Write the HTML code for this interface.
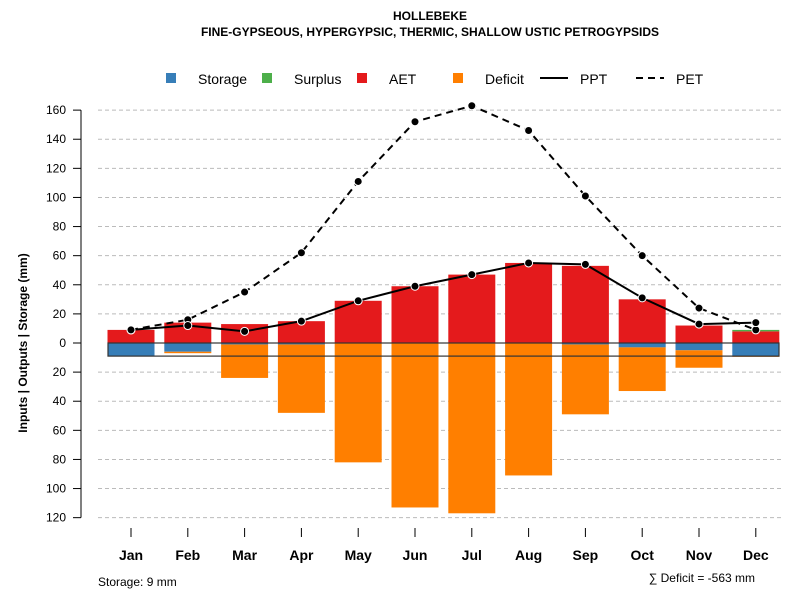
<!DOCTYPE html>
<html><head><meta charset="utf-8"><style>
body{margin:0;background:#fff}
svg{font-family:"Liberation Sans",Arial,sans-serif}
</style></head><body>
<svg id="c" width="800" height="600" xmlns="http://www.w3.org/2000/svg">
<text x="430" y="20" text-anchor="middle" font-size="12" font-weight="bold">HOLLEBEKE</text>
<text x="430" y="36" text-anchor="middle" font-size="12" font-weight="bold">FINE-GYPSEOUS, HYPERGYPSIC, THERMIC, SHALLOW USTIC PETROGYPSIDS</text>
<g id="legend" font-size="14">
<g><rect x="166" y="73" width="10" height="10" fill="#377eb8"/><text x="198" y="84">Storage</text></g>
<g><rect x="262" y="73" width="10" height="10" fill="#4daf4a"/><text x="294" y="84">Surplus</text></g>
<g><rect x="357" y="73" width="10" height="10" fill="#e41a1c"/><text x="389" y="84">AET</text></g>
<g><rect x="453" y="73" width="10" height="10" fill="#ff7f00"/><text x="485" y="84">Deficit</text></g>
<g><line x1="540" y1="78" x2="568" y2="78" stroke="#000" stroke-width="2"/><text x="580" y="84">PPT</text></g>
<g><line x1="636" y1="78" x2="664" y2="78" stroke="#000" stroke-width="2" stroke-dasharray="7,5"/><text x="676" y="84">PET</text></g>
</g>
<g id="grid"></g><g id="bars"></g><g id="lines"></g><g id="axes"></g>
<text transform="translate(27,343) rotate(-90)" text-anchor="middle" font-size="12" font-weight="bold">Inputs | Outputs | Storage    (mm)</text>
<text x="98" y="586" font-size="12">Storage: 9 mm</text>
<text x="755" y="582" text-anchor="end" font-size="12">∑ Deficit = -563 mm</text>
</svg>
<script>
const months=["Jan","Feb","Mar","Apr","May","Jun","Jul","Aug","Sep","Oct","Nov","Dec"];
const ppt=[9,12,8,15,29,39,47,55,54,31,13,14];
const pet=[9,16,35,62,111,152,163,146,101,60,24,9];
const aet=[9,14,13,15,29,39,47,55,53,30,12,8];
const surplus=[0,0,0,0,0,0,0,0,0,0,0,1];
const storage=[9,6,1,1,0,0,0,0,1,3,5,9];
const deficit=[0,1,23,47,82,113,117,91,48,30,12,0.5];
const yTicks=[160,140,120,100,80,60,40,20,0,20,40,60,80,100,120];
const yVals=[160,140,120,100,80,60,40,20,0,-20,-40,-60,-80,-100,-120];
const NS="http://www.w3.org/2000/svg";
const y=v=>343-v*1.4555;
const x=i=>131+i*56.8;
const bw=47;
function mk(t,a,p){const e=document.createElementNS(NS,t);for(const k in a)e.setAttribute(k,a[k]);p.appendChild(e);return e;}
const G=document.getElementById('grid'),B=document.getElementById('bars'),L=document.getElementById('lines'),A=document.getElementById('axes');
yVals.forEach((v,i)=>{
 if(v!==0){const g=mk('line',{x1:98,x2:781,y1:y(v),y2:y(v),stroke:'#bbb','stroke-dasharray':'4,3'},G);
 
 }
 const t=mk('line',{x1:73,x2:81,y1:y(v),y2:y(v),stroke:'#000'},A);
 
 
 const l=mk('text',{x:66,y:y(v)+4,'text-anchor':'end','font-size':12},A);l.textContent=yTicks[i];
 
 
});
const ax=mk('line',{x1:81,x2:81,y1:y(160),y2:y(-120),stroke:'#000'},A);


months.forEach((m,i)=>{
 const cx=x(i),x0=cx-bw/2;
 const r1=mk('rect',{x:x0,y:y(aet[i]),width:bw,height:aet[i]*1.4555,fill:'#e41a1c'},B);
 
 
 if(surplus[i]>0){const r=mk('rect',{x:x0,y:y(aet[i]+surplus[i]),width:bw,height:surplus[i]*1.4555,fill:'#4daf4a'},B);
 
 }
 const r2=mk('rect',{x:x0,y:y(0),width:bw,height:storage[i]*1.4555,fill:'#377eb8'},B);
 
 
 const r3=mk('rect',{x:x0,y:y(-storage[i]),width:bw,height:deficit[i]*1.4555,fill:'#ff7f00'},B);
 
 
 const t=mk('line',{x1:cx,x2:cx,y1:528,y2:537,stroke:'#000'},A);
 
 
 const l=mk('text',{x:cx,y:560,'text-anchor':'middle','font-size':14,'font-weight':'bold'},A);l.textContent=m;
 
 
});
const box=mk('rect',{x:108,y:y(0),width:671,height:9*1.4555,fill:'none',stroke:'#333','stroke-width':1.2},B);


function series(arr,dash,name){
 const p=mk('polyline',{points:arr.map((v,i)=>x(i)+','+y(v)).join(' '),fill:'none',stroke:'#000','stroke-width':2,'stroke-dasharray':dash},L);
 
 
 arr.forEach((v,i)=>{const c=mk('circle',{cx:x(i),cy:y(v),r:4,fill:'#000',stroke:'#fff','stroke-width':1},L);
 
 });
}
series(pet,'7,5','pet');
series(ppt,'none','ppt');
</script>
</body></html>
